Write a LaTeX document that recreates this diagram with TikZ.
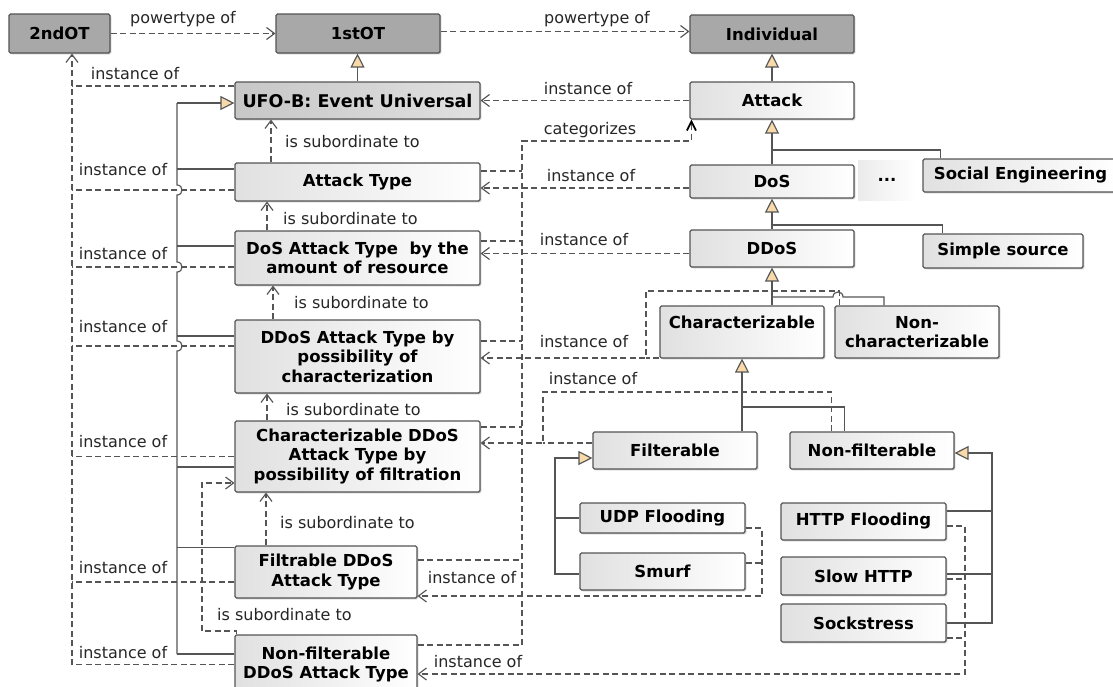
\documentclass[tikz,border=0pt]{standalone}
\usepackage{fontspec}
\setmainfont{DejaVu Sans}
\usetikzlibrary{arrows.meta,shadows}

\definecolor{gentri}{HTML}{F7D9AA}
\definecolor{umlline}{HTML}{555555}
\newcommand{\boxfont}{\fontsize{16.5}{19.5}\selectfont\bfseries}
\newcommand{\lblfont}{\fontsize{16}{18}\selectfont}

\tikzset{
  umlbox/.style={draw=umlline, line width=1.1pt, rounded corners=1.5pt, align=center, font=\boxfont,
    inner xsep=1pt, inner ysep=2pt,
    drop shadow={shadow xshift=1.3pt, shadow yshift=-1.3pt, fill=black!45, opacity=0.45}},
  typebox/.style={umlbox, left color=black!12, right color=white},
  metabox/.style={umlbox, fill=black!34},
  link/.style={draw=umlline, line width=1.15pt, dash pattern=on 6pt off 3.5pt},
  dep/.style={link, -{Straight Barb[length=8pt,width=12pt]}},
  cat/.style={link, -{Straight Barb[length=9pt,width=9pt,line width=1.8pt,color=black]}},
  tree/.style={draw=umlline, line width=1.15pt},
  gen/.style={tree, -{Triangle[length=14pt,width=14pt,fill=gentri]}},
  lbl/.style={font=\lblfont, text=black!85, inner sep=1pt},
}

\begin{document}
\begin{tikzpicture}[x=1pt, y=-1pt]
\fill[white] (0,0) rectangle (1113,686);
\useasboundingbox (0,0) rectangle (1113,686);

% metatypes
\node[metabox, minimum width=101pt, minimum height=39pt] (twoOT) at (59.5,33.5) {2ndOT};
\node[metabox, minimum width=164pt, minimum height=39pt] (oneOT) at (358,33.5) {1stOT};
\node[metabox, minimum width=164pt, minimum height=38pt] (indiv) at (772,34) {Individual};

% types
\node[umlbox, left color=black!22, right color=black!12, font=\fontsize{17.5}{20}\selectfont\bfseries,
  minimum width=245pt, minimum height=37pt] (ufob) at (357.5,100.5) {UFO-B: Event Universal};
\node[typebox, minimum width=245pt, minimum height=38pt] (attType) at (357.5,182) {Attack Type};
\node[typebox, minimum width=245pt, minimum height=54pt] (dosType) at (357.5,258) {DoS Attack Type~ by the\\amount of resource};
\node[typebox, minimum width=245pt, minimum height=73pt] (ddosType) at (357.5,356.5) {DDoS Attack Type by\\possibility of\\characterization};
\node[typebox, minimum width=245pt, minimum height=71pt] (charType) at (357.5,456.5) {Characterizable DDoS\\Attack Type by\\possibility of filtration};
\node[typebox, minimum width=182pt, minimum height=52pt] (filtType) at (326,572) {Filtrable DDoS\\Attack Type};
\node[typebox, minimum width=182pt, minimum height=59pt] (nonfiltType) at (326,664.5) {Non-filterable\\DDoS Attack Type};

% individuals
\node[typebox, minimum width=164pt, minimum height=37pt] (attack) at (772,100.5) {Attack};
\node[typebox, minimum width=164pt, minimum height=33pt] (dos) at (772,181.5) {DoS};
\node[left color=black!8, right color=white, font=\boxfont, minimum width=58pt, minimum height=40pt] (dots) at (887,180) {...};
\node[typebox, minimum width=195pt, minimum height=33pt] (soceng) at (1020.5,175.5) {Social Engineering};
\node[typebox, minimum width=164pt, minimum height=37pt] (ddos) at (772,248.5) {DDoS};
\node[typebox, minimum width=160pt, minimum height=34pt] (simple) at (1003,251) {Simple source};
\node[typebox, minimum width=164pt, minimum height=52pt] (charz) at (742,332) {Characterizable\\~};
\node[typebox, minimum width=164pt, minimum height=52pt] (noncharz) at (917,332) {Non-\\characterizable};
\node[typebox, minimum width=164pt, minimum height=37pt] (filt) at (675,450.5) {Filterable};
\node[typebox, minimum width=164pt, minimum height=37pt] (nonfilt) at (872,450.5) {Non-filterable};
\node[typebox, minimum width=165pt, minimum height=30pt] (udp) at (662.5,518) {UDP Flooding};
\node[typebox, minimum width=165pt, minimum height=37pt] (smurf) at (662.5,571.5) {Smurf};
\node[typebox, minimum width=165pt, minimum height=37pt] (http) at (863.5,521.5) {HTTP Flooding};
\node[typebox, minimum width=165pt, minimum height=38pt] (slowhttp) at (863.5,576) {Slow HTTP};
\node[typebox, minimum width=165pt, minimum height=38pt] (sockstress) at (863.5,623) {Sockstress};

% bends and buses
\coordinate (ibus) at (72,0);
\coordinate (gtop) at (177,103);
\coordinate (gbot) at (177,654);
\coordinate (catbus) at (522,141);
\coordinate (slbend) at (202,631);
\coordinate (cbend) at (646,291);
\coordinate (fbend) at (543,392);
\coordinate (fbus) at (555,0);
\coordinate (nfbus) at (992,0);
\coordinate (ubus) at (762,596);
\coordinate (nbus) at (965,674);
\coordinate (attfork) at (772,150);
\coordinate (dosfork) at (772,225);
\coordinate (ddosfork) at (772,297);
\coordinate (charfork) at (743,407);

% powertype of
\draw[dep] (twoOT) -- (oneOT);
\draw[dep] ([yshift=2pt]oneOT.east) -- ([yshift=2pt]oneOT.east -| indiv.west);

% generalizations
\draw[gen] (ufob.north) -- (ufob.north |- oneOT.south);
\draw[gen] (attack) -- (indiv);
\draw[gen] (dos) -- (attack);
\draw[tree] (attfork) -| ([xshift=18pt]soceng.north west);
\draw[gen] (ddos) -- (dos);
\draw[tree] (dosfork) -| ([xshift=20pt]simple.north west);
\draw[gen] (ddos.south |- charz.north) -- (ddos.south);
\draw[tree] (ddosfork) -- (833,297) .. controls (833,290.3) and (843,290.3) .. (843,297) -| ([xshift=-33pt]noncharz.north);
\draw[gen] (charz.south |- filt.north) -- (charz.south);
\draw[tree] (charfork) -| ([xshift=55pt]nonfilt.north west);
\draw[gen] ([yshift=-2.5pt]smurf.west) -| ([yshift=-7.5pt]filt.west -| fbus) -- ([yshift=-7.5pt]filt.west);
\draw[tree] (udp.west) -- (udp.west -| fbus);
\draw[gen] (sockstress.east) -| ([yshift=-2.5pt]nonfilt.east -| nfbus) -- ([yshift=-2.5pt]nonfilt.east);
\draw[tree] ([yshift=10.5pt]http.east) -- ([yshift=10.5pt]http.east -| nfbus);
\draw[tree] ([yshift=2pt]slowhttp.east) -- ([yshift=2pt]slowhttp.east -| nfbus);

% subtypes of the event universal
\draw[tree] (gtop) foreach \h in {190,267,346} {-- (177,\h-5) .. controls (183.7,\h-5) and (183.7,\h+5) .. (177,\h+5)} -- (gbot);
\draw[gen] (gtop) -- ([yshift=-2.5pt]ufob.west);
\foreach \n/\s in {attType/13pt, dosType/12pt, ddosType/20.5pt, charType/-10.5pt, filtType/24.5pt, nonfiltType/10.5pt}
  \draw[tree] ([yshift=\s]\n.west) -- ([yshift=\s]\n.west -| gtop);

% instance of 2ndOT
\draw[dep] (nonfiltType.west) -| (twoOT.south -| ibus);
\foreach \n/\s in {ufob/14.5pt, attType/-8pt, dosType/-9pt, ddosType/10.5pt, charType/0pt, filtType/-10pt}
  \draw[link] ([yshift=\s]\n.west) -- ([yshift=\s]\n.west -| ibus);

% is subordinate to
\draw[dep] ([xshift=-86.5pt]attType.north) -- ([xshift=-86.5pt]ufob.south);
\draw[dep] ([xshift=-90.5pt]dosType.north) -- ([xshift=-90.5pt]attType.south);
\draw[dep] ([xshift=-84.5pt]ddosType.north) -- ([xshift=-84.5pt]dosType.south);
\draw[dep] ([xshift=-90.5pt]charType.north) -- ([xshift=-90.5pt]ddosType.south);
\draw[dep] ([xshift=-60pt]filtType.north) -- ([xshift=-60pt]filtType.north |- charType.south);
\draw[dep] ([xshift=2pt]nonfiltType.north west) |- (slbend) |- ([yshift=-26.5pt]charType.west);

% instance of (right side)
\draw[dep] (attack) -- (ufob);
\draw[dep] ([yshift=-6.5pt]dos.west) -- ([yshift=-6.5pt]dos.west -| attType.east);
\draw[dep] ([yshift=-5pt]ddos.west) -- ([yshift=-5pt]ddos.west -| dosType.east);
\draw[dep] ([xshift=5pt]noncharz.north west) |- (cbend) |- ([yshift=-1.5pt]ddosType.east);
\draw[link] ([yshift=-26pt]charz.west) -- ([yshift=-26pt]charz.west -| cbend);
\draw[dep] ([xshift=42pt]nonfilt.north west) |- (fbend) |- ([yshift=13.5pt]charType.east);
\draw[link] ([yshift=7.5pt]filt.west) -- ([yshift=7.5pt]filt.west -| fbend);
\draw[dep] ([yshift=-10pt]udp.east) -| (ubus) -- ([yshift=-24pt]filtType.east);
\draw[link] ([yshift=8.5pt]smurf.east) -- ([yshift=8.5pt]smurf.east -| ubus);
\draw[dep] ([yshift=-4.5pt]http.east) -| (nbus) -- ([yshift=-9.5pt]nonfiltType.east);
\draw[link] ([yshift=-3pt]slowhttp.east) -- ([yshift=-3pt]slowhttp.east -| nbus);
\draw[link] ([yshift=-15pt]sockstress.east) -- ([yshift=-15pt]sockstress.east -| nbus);

% categorizes
\draw[cat] ([yshift=19.5pt]nonfiltType.east) -| (catbus) -| ([xshift=2pt]attack.south west);
\foreach \n/\s in {attType/11pt, dosType/17pt, ddosType/15.5pt, charType/29.5pt, filtType/12pt}
  \draw[link] ([yshift=\s]\n.east) -- ([yshift=\s]\n.east -| catbus);

% labels
\node[lbl] (ptA) at (183,19) {powertype of};
\node[lbl] (ptB) at (597,19) {powertype of};
\node[lbl] (iUfo) at (135,74) {instance of};
\foreach \y [count=\i] in {170,254,327,442,568,653}
  \node[lbl] (iL\i) at (123,\y) {instance of};
\node[lbl] (iAtt) at (588,89) {instance of};
\node[lbl] (catz) at (590,130) {categorizes};
\node[lbl] (iDos) at (591,176) {instance of};
\node[lbl] (iDdos) at (584,240) {instance of};
\node[lbl] (iChar) at (584,342) {instance of};
\node[lbl] (iFilt) at (593,379) {instance of};
\node[lbl] (iUdp) at (472,578) {instance of};
\node[lbl] (iHttp) at (478,662) {instance of};
\foreach \x/\y [count=\i] in {284/142, 282/219, 293/303, 285/410, 279/523, 216/615}
  \node[lbl, anchor=west] (sub\i) at (\x,\y) {is subordinate to};
\end{tikzpicture}
\end{document}
